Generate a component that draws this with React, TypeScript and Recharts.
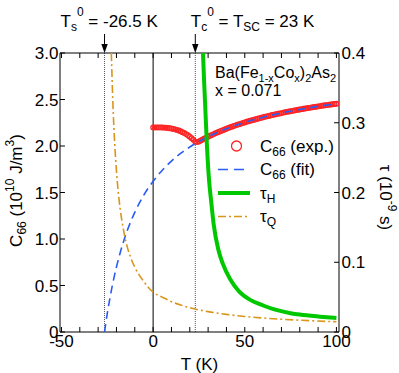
import { ComposedChart, Line, Scatter, XAxis, YAxis, ReferenceLine, Legend } from 'recharts';

const FONT = '"Liberation Sans", Arial, Helvetica, sans-serif';

const RED = '#ff2424';
const BLUE = '#2a5cf5';
const GREEN = '#00c800';
const ORANGE = '#d9961c';

// axes
const tDomain = [-50.8, 101.4];
const c66Domain = [0, 3];
const tauDomain = [0, 0.4];
const tTicks = [-50, -40, -30, -20, -10, 0, 10, 20, 30, 40, 50, 60, 70, 80, 90, 100];
const c66Ticks = [0, 0.5, 1.0, 1.5, 2.0, 2.5, 3.0];
const tauTicks = [0, 0.1, 0.2, 0.3, 0.4];

// characteristic temperatures
const Ts0 = -26.5;
const Tc0 = 23;

// C66 measured
const expT = [
  0, 1, 2, 3, 4, 5, 6, 7, 8, 9, 10, 11, 12, 13, 14, 15, 16, 17, 18, 19, 20, 21, 22, 23, 24,
  25, 26, 27, 28, 29, 30, 31, 32, 33, 34, 35, 36, 37, 38, 39, 40, 41, 42, 43, 44, 45, 46, 47, 48, 49,
  50, 51, 52, 53, 54, 55, 56, 57, 58, 59, 60, 61, 62, 63, 64, 65, 66, 67, 68, 69, 70, 71, 72, 73, 74,
  75, 76, 77, 78, 79, 80, 81, 82, 83, 84, 85, 86, 87, 88, 89, 90, 91, 92, 93, 94, 95, 96, 97, 98, 99, 100,
];
const expC66 = [
  2.2, 2.2, 2.2, 2.2, 2.2, 2.199, 2.198, 2.196, 2.194, 2.191, 2.188, 2.184, 2.179, 2.173, 2.166,
  2.158, 2.149, 2.139, 2.128, 2.115, 2.1, 2.084, 2.066, 2.045, 2.042,
  2.049, 2.059, 2.07, 2.08, 2.09, 2.1, 2.11, 2.119, 2.128, 2.137, 2.146, 2.154, 2.162, 2.17, 2.178,
  2.186, 2.193, 2.201, 2.208, 2.215, 2.222, 2.228, 2.235, 2.241, 2.248,
  2.254, 2.26, 2.266, 2.271, 2.277, 2.283, 2.288, 2.293, 2.299, 2.304, 2.309, 2.314, 2.319, 2.323,
  2.328, 2.333, 2.337, 2.342, 2.346, 2.35, 2.354, 2.359, 2.363, 2.367, 2.371,
  2.374, 2.378, 2.382, 2.386, 2.389, 2.393, 2.396, 2.4, 2.403, 2.407, 2.41, 2.413, 2.416, 2.42,
  2.423, 2.426, 2.429, 2.432, 2.435, 2.438, 2.44, 2.443, 2.446, 2.449, 2.451, 2.454,
];

// C66 fit
const fitT = [-26.5, -26, -25, -24, -22, -20, -18, -16, -14, -10, -5, 0, 5, 10, 15, 20, 23, 30, 40, 50, 60, 70, 80, 90, 100];
const fitC66 = [0, 0.071, 0.199, 0.317, 0.524, 0.699, 0.85, 0.981, 1.096, 1.287, 1.475, 1.62, 1.74, 1.838, 1.92, 1.989, 2.026, 2.1, 2.186, 2.254, 2.309, 2.354, 2.393, 2.426, 2.454];

// tau_H
const tauHT = [27.2, 27.8, 28.4, 29.4, 30.5, 31.6, 33, 35.6, 38, 42.2, 47, 53, 60, 66.6, 75, 80, 91, 100];
const tauH = [0.4, 0.36, 0.325, 0.265, 0.218, 0.189, 0.155, 0.118, 0.098, 0.075, 0.058, 0.046, 0.038, 0.032, 0.027, 0.025, 0.022, 0.02];

// tau_Q
const tauQT = [-22.8, -22, -21, -20, -19, -18, -17, -16, -14, -12, -10, -5, 0, 5, 10, 15, 20, 30, 40, 50, 60, 70, 80, 90, 100];
const tauQ = [0.4, 0.332, 0.272, 0.231, 0.2, 0.177, 0.159, 0.144, 0.121, 0.105, 0.093, 0.072, 0.057, 0.05, 0.0435, 0.0387, 0.0348, 0.0292, 0.0253, 0.0223, 0.0201, 0.0183, 0.0169, 0.0157, 0.0147];

const pair = (xs: number[], ys: number[]) => xs.map((t, i) => ({ t, v: ys[i] }));

const expData = pair(expT, expC66);
const fitData = pair(fitT, fitC66);
const tauHData = pair(tauHT, tauH);
const tauQData = pair(tauQT, tauQ);

const fmt1 = (v: number) => (v === 0 ? '0' : v.toFixed(1));

// inward tick length, in data units of each axis (about 5 px)
const TICK_T = 2.7;
const TICK_C = 0.054;

function BottomTick(props: any) {
  const { x, y, payload } = props;
  const v = payload.value;
  if (v % 50 !== 0) return null;
  return (
    <text x={x} y={y} dy="0.71em" textAnchor="middle" fontFamily={FONT} fontSize={17} fill="#000">
      {v}
    </text>
  );
}

function LeftTick(props: any) {
  const { x, y, payload } = props;
  return (
    <text x={x} y={y} dy="0.355em" textAnchor="end" fontFamily={FONT} fontSize={17} fill="#000">
      {fmt1(payload.value)}
    </text>
  );
}

function RightTick(props: any) {
  const { x, y, payload } = props;
  return (
    <text x={x} y={y} dy="0.355em" textAnchor="start" fontFamily={FONT} fontSize={17} fill="#000">
      {fmt1(payload.value)}
    </text>
  );
}

function ArrowMark(props: any) {
  const { viewBox, which } = props;
  if (!viewBox) return null;
  const x = viewBox.x;
  const top = Math.min(viewBox.y, viewBox.y + viewBox.height);
  const tx = which === 's' ? x - 44 : x - 4.5;
  const ty = top - 26;
  return (
    <g>
      <line x1={x} x2={x} y1={top - 19} y2={top - 7} stroke="#000" strokeWidth={1} />
      <polygon points={`${x - 3.2},${top - 9} ${x + 3.2},${top - 9} ${x},${top}`} fill="#000" />
      <text x={tx} y={ty} textAnchor="start" fontFamily={FONT} fontSize={17} fill="#000">
        {which === 's' ? (
          <>
            <tspan>T</tspan>
            <tspan dy={4} fontSize={12}>s</tspan>
            <tspan dy={-15} fontSize={12}>0</tspan>
            <tspan dy={11}> = -26.5 K</tspan>
          </>
        ) : (
          <>
            <tspan>T</tspan>
            <tspan dy={4} fontSize={12}>c</tspan>
            <tspan dy={-15} fontSize={12}>0</tspan>
            <tspan dy={11}> = T</tspan>
            <tspan dy={4} fontSize={12}>SC</tspan>
            <tspan dy={-4}> = 23 K</tspan>
          </>
        )}
      </text>
    </g>
  );
}

function LeftLabel(props: any) {
  const { viewBox } = props;
  if (!viewBox) return null;
  const x = viewBox.x + 22;
  const y = viewBox.y + viewBox.height / 2 - 2;
  return (
    <text x={x} y={y} transform={`rotate(-90, ${x}, ${y})`} textAnchor="middle" fontFamily={FONT} fontSize={17} fill="#000">
      <tspan>C</tspan>
      <tspan dy={4} fontSize={12}>66</tspan>
      <tspan dy={-4}> (10</tspan>
      <tspan dy={-8} fontSize={12}>10</tspan>
      <tspan dy={8}> J/m</tspan>
      <tspan dy={-8} fontSize={12}>3</tspan>
      <tspan dy={8}>)</tspan>
    </text>
  );
}

function RightLabel(props: any) {
  const { viewBox } = props;
  if (!viewBox) return null;
  const x = viewBox.x + 41;
  const y = viewBox.y + viewBox.height / 2 + 5;
  return (
    <text x={x} y={y} transform={`rotate(90, ${x}, ${y})`} textAnchor="middle" fontFamily={FONT} fontSize={17} fill="#000">
      <tspan>τ (10</tspan>
      <tspan dy={-8} fontSize={12}>-9</tspan>
      <tspan dy={8}> s)</tspan>
    </text>
  );
}

function BottomLabel(props: any) {
  const { viewBox } = props;
  if (!viewBox) return null;
  return (
    <text x={viewBox.x + viewBox.width / 2} y={viewBox.y + viewBox.height - 3} textAnchor="middle" fontFamily={FONT} fontSize={17} fill="#000">
      T (K)
    </text>
  );
}

function Inset() {
  const rows = [91, 114.5, 138, 161.5];
  return (
    <svg width={189} height={180} style={{ overflow: 'visible' }}>
      <text x={5} y={23.3} fontFamily={FONT} fontSize={16} fill="#000">
        <tspan>Ba(Fe</tspan>
        <tspan dy={4} fontSize={11}>1-x</tspan>
        <tspan dy={-4}>Co</tspan>
        <tspan dy={4} fontSize={11}>x</tspan>
        <tspan dy={-4}>)</tspan>
        <tspan dy={4} fontSize={11}>2</tspan>
        <tspan dy={-4}>As</tspan>
        <tspan dy={4} fontSize={11}>2</tspan>
      </text>
      <text x={5} y={41} fontFamily={FONT} fontSize={16} fill="#000">x = 0.071</text>

      <circle cx={26.5} cy={rows[0]} r={5} fill="none" stroke={RED} strokeWidth={1.3} />
      <line x1={8} x2={40} y1={rows[1]} y2={rows[1]} stroke={BLUE} strokeWidth={1.6} strokeDasharray="10 6" />
      <line x1={8} x2={40} y1={rows[2]} y2={rows[2]} stroke={GREEN} strokeWidth={4} />
      <line x1={8} x2={40} y1={rows[3]} y2={rows[3]} stroke={ORANGE} strokeWidth={1.6} strokeDasharray="8 3 2 3" />

      <text x={50} y={rows[0] + 5.7} fontFamily={FONT} fontSize={17} fill="#000">
        <tspan>C</tspan>
        <tspan dy={4} fontSize={12}>66</tspan>
        <tspan dy={-4}> (exp.)</tspan>
      </text>
      <text x={50} y={rows[1] + 5.7} fontFamily={FONT} fontSize={17} fill="#000">
        <tspan>C</tspan>
        <tspan dy={4} fontSize={12}>66</tspan>
        <tspan dy={-4}> (fit)</tspan>
      </text>
      <text x={50} y={rows[2] + 5.7} fontFamily={FONT} fontSize={17} fill="#000">
        <tspan>τ</tspan>
        <tspan dy={4} fontSize={12}>H</tspan>
      </text>
      <text x={50} y={rows[3] + 5.7} fontFamily={FONT} fontSize={17} fill="#000">
        <tspan>τ</tspan>
        <tspan dy={4} fontSize={12}>Q</tspan>
      </text>
    </svg>
  );
}

const ExpDot = (p: any) => (
  <circle cx={p.cx} cy={p.cy} r={2.3} fill="none" stroke={RED} strokeWidth={1.3} />
);

export default function App() {
  const [tMin, tMax] = tDomain;
  const cMax = c66Domain[1];
  return (
    <div style={{ position: 'absolute', left: 0, top: 0, width: 399, height: 373, background: '#fff' }}>
      <ComposedChart width={399} height={373} margin={{ top: 23, right: 0, bottom: 0, left: 0 }}>
        <XAxis
          xAxisId="b"
          dataKey="t"
          type="number"
          domain={tDomain}
          allowDataOverflow
          ticks={tTicks}
          interval={0}
          tick={<BottomTick />}
          tickLine={false}
          tickSize={0}
          tickMargin={3}
          height={41}
          axisLine={{ stroke: '#000' }}
          label={<BottomLabel />}
        />
        <XAxis
          xAxisId="t"
          dataKey="t"
          orientation="top"
          type="number"
          domain={tDomain}
          allowDataOverflow
          ticks={tTicks}
          tick={false}
          tickLine={false}
          height={30}
          axisLine={{ stroke: '#000' }}
        />
        <YAxis
          yAxisId="left"
          type="number"
          domain={c66Domain}
          allowDataOverflow
          ticks={c66Ticks}
          interval={0}
          tick={<LeftTick />}
          tickLine={false}
          tickSize={0}
          tickMargin={1.5}
          width={60}
          axisLine={{ stroke: '#000' }}
          label={<LeftLabel />}
        />
        <YAxis
          yAxisId="right"
          orientation="right"
          type="number"
          domain={tauDomain}
          allowDataOverflow
          ticks={tauTicks}
          interval={0}
          tick={<RightTick />}
          tickLine={false}
          tickSize={0}
          tickMargin={2.5}
          width={60}
          axisLine={{ stroke: '#000' }}
          label={<RightLabel />}
        />

        <ReferenceLine xAxisId="b" yAxisId="left" x={Ts0} stroke="#555" strokeDasharray="1 1" label={<ArrowMark which="s" />} />
        <ReferenceLine xAxisId="b" yAxisId="left" x={0} stroke="#000" strokeWidth={1} />
        <ReferenceLine xAxisId="b" yAxisId="left" x={Tc0} stroke="#555" strokeDasharray="1 1" label={<ArrowMark which="c" />} />

        {/* inward ticks on all four sides of the box */}
        {tTicks.map((t) => (
          <ReferenceLine key={`tb${t}`} xAxisId="b" yAxisId="left" ifOverflow="visible" stroke="#000"
            segment={[{ x: t, y: 0 }, { x: t, y: TICK_C }]} />
        ))}
        {tTicks.map((t) => (
          <ReferenceLine key={`tt${t}`} xAxisId="b" yAxisId="left" ifOverflow="visible" stroke="#000"
            segment={[{ x: t, y: cMax }, { x: t, y: cMax - TICK_C }]} />
        ))}
        {c66Ticks.map((c) => (
          <ReferenceLine key={`tl${c}`} xAxisId="b" yAxisId="left" ifOverflow="visible" stroke="#000"
            segment={[{ x: tMin, y: c }, { x: tMin + TICK_T, y: c }]} />
        ))}
        {tauTicks.map((v) => (
          <ReferenceLine key={`tr${v}`} xAxisId="b" yAxisId="right" ifOverflow="visible" stroke="#000"
            segment={[{ x: tMax, y: v }, { x: tMax - TICK_T, y: v }]} />
        ))}

        <Scatter
          xAxisId="b"
          yAxisId="left"
          data={expData}
          dataKey="v"
          isAnimationActive={false}
          shape={ExpDot}
        />
        <Line
          xAxisId="b"
          yAxisId="left"
          data={fitData}
          dataKey="v"
          type="monotone"
          stroke={BLUE}
          strokeWidth={1.6}
          strokeDasharray="8 5"
          dot={false}
          isAnimationActive={false}
          zIndex={700}
        />
        <Line
          xAxisId="b"
          yAxisId="right"
          data={tauHData}
          dataKey="v"
          type="monotone"
          stroke={GREEN}
          strokeWidth={4}
          dot={false}
          isAnimationActive={false}
          zIndex={700}
        />
        <Line
          xAxisId="b"
          yAxisId="right"
          data={tauQData}
          dataKey="v"
          type="monotone"
          stroke={ORANGE}
          strokeWidth={1.6}
          strokeDasharray="8 3 2 3"
          dot={false}
          isAnimationActive={false}
          zIndex={700}
        />

        <Legend
          layout="vertical"
          align="center"
          verticalAlign="middle"
          content={() => <Inset />}
          wrapperStyle={{ left: 210, top: 55, width: 189, height: 180 }}
        />
      </ComposedChart>
    </div>
  );
}
